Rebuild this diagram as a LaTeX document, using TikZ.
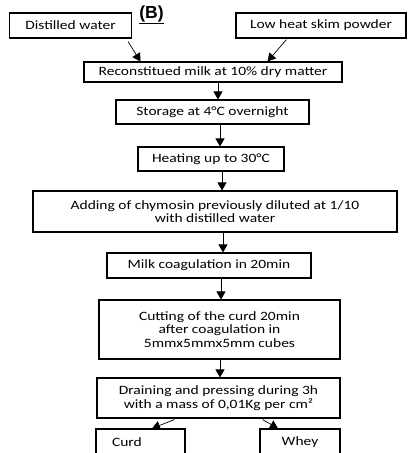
\documentclass[tikz,border=0pt]{standalone}
\usepackage{fontspec}
\setmainfont{Carlito}[FakeStretch=1.22]
\newfontfamily\headfont{Liberation Sans}
\usetikzlibrary{arrows.meta}

\begin{document}
\begin{tikzpicture}[
    x=1pt, y=-1pt,
    >={Triangle[length=8pt, width=9pt]},
    % Define styles for the elements
    step box/.style={
        rectangle,
        draw=black,             % plain black outline
        fill=white,
        line width=1.1pt,
        align=center,
        inner sep=1pt,
        font=\fontsize{12.7}{13.6}\selectfont
    },
    flow line/.style={
        ->,
        line width=0.7pt,
        color=black
    }
]
    % --- Frame ---
    \clip (0,0) rectangle (413,453);
    \fill[white] (0,0) rectangle (413,453);

    % --- Panel label ---
    \node[font=\headfont\bfseries\fontsize{17.5}{18}\selectfont, inner sep=0pt] (panel) at (151.5,15) {\underline{(B)}};

    % --- Ingredients ---
    \node[step box, minimum width=122pt, minimum height=25pt] (water) at (70.5,25.5) {Distilled water};
    \node[step box, minimum width=170pt, minimum height=25pt] (powder) at (321,25.5) {Low heat skim powder};

    % --- Main process ---
    \node[step box, minimum width=258pt, minimum height=20pt] (recon) at (213,72) {Reconstitued milk at 10\% dry matter};
    \node[step box, minimum width=193pt, minimum height=24pt] (storage) at (212.5,112) {Storage at 4°C overnight};
    \node[step box, minimum width=146pt, minimum height=24pt] (heating) at (211,159) {Heating up to 30°C};
    \node[step box, minimum width=364pt, minimum height=41pt] (adding) at (215,211.5) {Adding of chymosin previously diluted at 1/10\\with distilled water};
    \node[step box, minimum width=204pt, minimum height=25pt] (coag) at (209,265.5) {Milk coagulation in 20min};
    \node[step box, minimum width=241pt, minimum height=59pt] (cutting) at (219.5,329.5) {Cutting of the curd 20min\\after coagulation in\\5mmx5mmx5mm cubes};
    \node[step box, minimum width=243pt, minimum height=40pt] (draining) at (218.5,398) {Draining and pressing during 3h\\with a mass of 0,01Kg per cm²};

    % --- Products ---
    \node[step box, minimum height=26pt, text width=57pt, align=left, inner xsep=16pt] (curd) at (140.5,442) {Curd};
    \node[step box, minimum width=80pt, minimum height=26pt] (whey) at (300,442) {Whey};

    % --- Connections ---
    \draw[flow line] ([xshift=-4pt, yshift=-3pt]water.south east) -- ([xshift=57pt]recon.north west);
    \draw[flow line] ([xshift=51pt, yshift=-1pt]powder.south west) -- ([xshift=-75pt]recon.north east);
    \draw[flow line] ([xshift=5pt]recon.south) -- ([xshift=5.5pt]storage.north);
    \draw[flow line] ([xshift=7.5pt]storage.south) -- ([xshift=9pt]heating.north);
    \draw[flow line] ([xshift=11pt]heating.south) -- ([xshift=7pt]adding.north);
    \draw[flow line] ([xshift=8pt]adding.south) -- ([xshift=14pt]coag.north);
    \draw[flow line] ([xshift=12pt]coag.south) -- ([xshift=1.5pt]cutting.north);
    \draw[flow line] ([xshift=0.5pt]cutting.south) -- ([xshift=1.5pt]draining.north);
    \draw[flow line] ([xshift=78pt, yshift=-1pt]draining.south west) -- ([xshift=11.5pt]curd.north);
    \draw[flow line] ([xshift=-78pt, yshift=-1pt]draining.south east) -- ([xshift=-22pt]whey.north);

\end{tikzpicture}
\end{document}
